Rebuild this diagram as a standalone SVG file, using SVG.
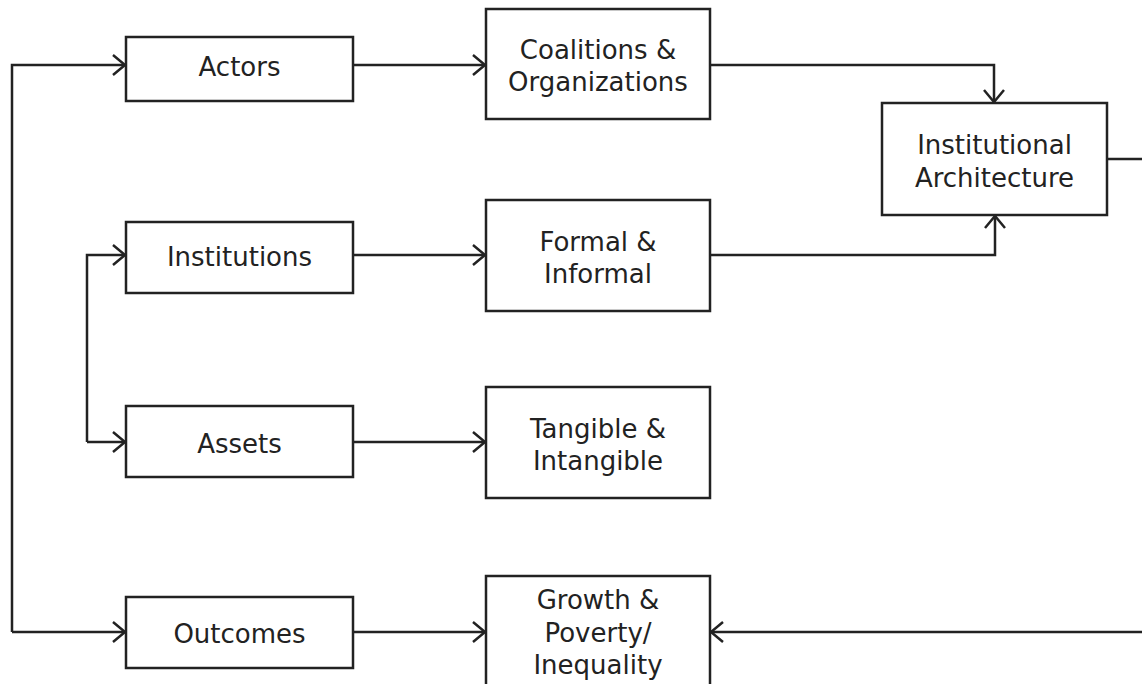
<svg xmlns="http://www.w3.org/2000/svg" width="1142" height="684" viewBox="0 0 1142 684">
<defs>
<marker id="arr" markerWidth="16" markerHeight="24" refX="13" refY="11" orient="auto" markerUnits="userSpaceOnUse">
<path d="M1,1 L13,11 L1,21" fill="none" stroke="#222" stroke-width="2.5"/>
</marker>
<style>
.box{fill:#fff;stroke:#222;stroke-width:2.5}
.t{font-family:"DejaVu Sans",Verdana,sans-serif;font-size:26px;fill:#222;text-anchor:middle}
.c{fill:none;stroke:#222;stroke-width:2.5}
</style>
</defs>
<rect width="1142" height="684" fill="#fff"/>
<g id="connectors">
<path class="c" d="M12,632 L12,65 L125,65" marker-end="url(#arr)"/>
<path class="c" d="M12,632 L125,632" marker-end="url(#arr)"/>
<path class="c" d="M87,442 L87,255 L125,255" marker-end="url(#arr)"/>
<path class="c" d="M87,442 L125,442" marker-end="url(#arr)"/>
<path class="c" d="M353,65 L485,65" marker-end="url(#arr)"/>
<path class="c" d="M353,255 L485,255" marker-end="url(#arr)"/>
<path class="c" d="M353,442 L485,442" marker-end="url(#arr)"/>
<path class="c" d="M353,632 L485,632" marker-end="url(#arr)"/>
<path class="c" d="M710,65 L994,65 L994,102" marker-end="url(#arr)"/>
<path class="c" d="M710,255 L995,255 L995,216" marker-end="url(#arr)"/>
<path class="c" d="M1107,159 L1143,159"/>
<path class="c" d="M1143,632 L711,632" marker-end="url(#arr)"/>
</g>
<g id="actors"><rect class="box" x="126" y="37" width="227" height="64"/><text class="t" x="239.5" y="76">Actors</text></g>
<g id="institutions"><rect class="box" x="126" y="222" width="227" height="71"/><text class="t" x="239.5" y="266">Institutions</text></g>
<g id="assets"><rect class="box" x="126" y="406" width="227" height="71"/><text class="t" x="239.5" y="453">Assets</text></g>
<g id="outcomes"><rect class="box" x="126" y="597" width="227" height="71"/><text class="t" x="239.5" y="643">Outcomes</text></g>
<g id="coalitions"><rect class="box" x="486" y="9" width="224" height="110"/><text class="t" x="598" y="59">Coalitions &amp;</text><text class="t" x="598" y="91">Organizations</text></g>
<g id="formal"><rect class="box" x="486" y="200" width="224" height="111"/><text class="t" x="598" y="251">Formal &amp;</text><text class="t" x="598" y="283">Informal</text></g>
<g id="tangible"><rect class="box" x="486" y="387" width="224" height="111"/><text class="t" x="598" y="438">Tangible &amp;</text><text class="t" x="598" y="470">Intangible</text></g>
<g id="growth"><rect class="box" x="486" y="576" width="224" height="130"/><text class="t" x="598" y="609">Growth &amp;</text><text class="t" x="598" y="642">Poverty/</text><text class="t" x="598" y="674">Inequality</text></g>
<g id="architecture"><rect class="box" x="882" y="103" width="225" height="112"/><text class="t" x="994.5" y="154">Institutional</text><text class="t" x="994.5" y="187">Architecture</text></g>
</svg>
